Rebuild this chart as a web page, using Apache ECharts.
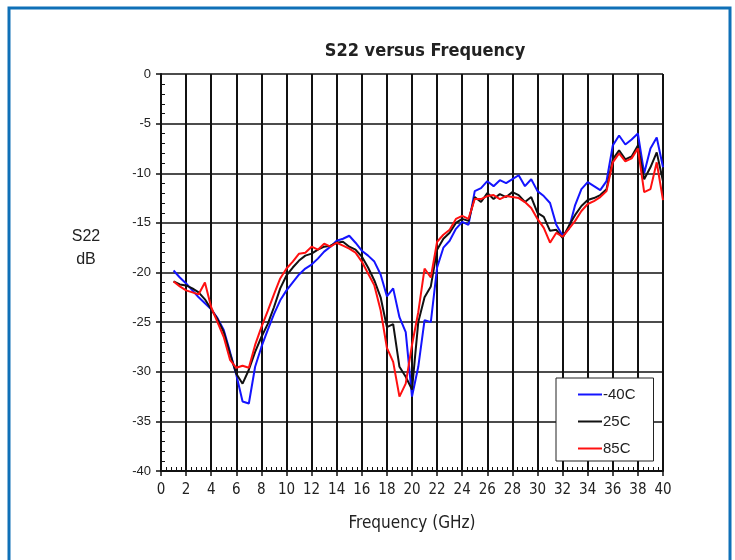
<!DOCTYPE html>
<html>
<head>
<meta charset="utf-8">
<script src="https://cdn.jsdelivr.net/npm/echarts@6/dist/echarts.min.js"></script>
<style>
  html, body { margin: 0; padding: 0; background: #fff; }
  #chart { width: 735px; height: 560px; }
</style>
</head>
<body>
<div id="chart"></div>
<script>
// frequency points (GHz)
var freq = [];
for (var f = 1; f <= 40; f += 0.5) freq.push(f);

// S22 in dB, every 0.5 GHz
var s22_m40 = [
    -19.8, -20.5, -21.1, -21.8, -22.5, -23.1, -23.7, -24.6, -25.8, -28.0,
    -30.3, -33.0, -33.2, -29.5, -27.5, -25.8, -24.2, -22.8, -21.8, -21.0,
    -20.2, -19.6, -19.2, -18.6, -17.9, -17.4, -16.8, -16.6, -16.3, -17.0,
    -17.8, -18.3, -18.9, -20.2, -22.4, -21.6, -24.5, -26.0, -32.5, -29.5,
    -24.8, -25.0, -19.5, -17.5, -16.8, -15.6, -14.9, -15.2, -11.8, -11.5,
    -10.8, -11.3, -10.7, -11.0, -10.6, -10.2, -11.3, -10.6, -11.8, -12.3,
    -13.0, -15.2, -16.3, -15.6, -13.2, -11.6, -10.9, -11.3, -11.7, -10.8,
    -7.2, -6.2, -7.1, -6.6, -6.0, -10.0, -7.5, -6.4, -9.4
];
var s22_25 = [
    -20.9, -21.2, -21.3, -21.6, -22.0, -22.7, -23.7, -24.7, -26.0, -28.2,
    -30.2, -31.2, -29.8, -28.0, -26.5, -25.2, -23.5, -21.6, -20.3, -19.5,
    -18.8, -18.3, -18.1, -17.7, -17.4, -17.3, -17.0, -16.9, -17.4, -17.7,
    -18.4, -19.5, -20.8, -22.5, -25.5, -25.2, -29.5, -30.5, -31.8, -25.0,
    -22.5, -21.4, -17.7, -16.6, -16.0, -15.0, -14.6, -14.8, -12.4, -12.9,
    -12.0, -12.6, -12.1, -12.4, -11.9, -12.2, -12.9, -12.4, -14.0, -14.4,
    -15.8, -15.7, -16.5, -15.3, -14.2, -13.3, -12.7, -12.5, -12.2, -11.6,
    -8.6, -7.7, -8.6, -8.3, -7.2, -10.6, -9.4, -7.9, -10.8
];
var s22_85 = [
    -20.9, -21.4, -21.8, -22.0, -22.2, -21.0, -23.5, -25.0, -26.5, -28.8,
    -29.6, -29.4, -29.6, -27.3, -25.5, -23.9, -22.2, -20.6, -19.6, -18.9,
    -18.1, -18.0, -17.4, -17.7, -17.1, -17.4, -17.0, -17.3, -17.6, -18.0,
    -18.9, -20.1, -21.3, -23.8, -27.6, -29.0, -32.5, -31.2, -27.3, -24.0,
    -19.6, -20.5, -16.9, -16.2, -15.7, -14.6, -14.3, -14.6, -12.6, -12.6,
    -12.3, -12.2, -12.6, -12.3, -12.4, -12.5, -12.9, -13.5, -14.6, -15.5,
    -17.0, -16.0, -16.4, -15.6, -14.8, -13.8, -13.1, -12.8, -12.4, -11.8,
    -8.9, -8.0, -8.8, -8.5, -7.5, -11.9, -11.6, -8.9, -12.7
];

var seriesNames = ['-40C', '25C', '85C'];
var seriesColors = ['#1414ff', '#111111', '#ff1010'];

function pairs(xs, ys) {
    var out = [];
    for (var i = 0; i < xs.length; i++) out.push([xs[i], ys[i]]);
    return out;
}

var condensed = '"Liberation Sans Narrow", "DejaVu Sans Condensed", "Liberation Sans", sans-serif';
var plain = '"Liberation Sans", Arial, sans-serif';

var myChart = echarts.init(document.getElementById('chart'));

var option = {
    backgroundColor: '#fff',
    animation: false,
    title: {
        text: 'S22 versus Frequency',
        left: 420,
        top: 37,
        textAlign: 'center',
        textStyle: { fontFamily: condensed, fontSize: 18, fontWeight: 'bold', color: '#222' }
    },
    graphic: [
        {
            type: 'rect',
            shape: { x: 9, y: 8, width: 721, height: 570 },
            style: { fill: null, stroke: '#0f70b7', lineWidth: 3 },
            silent: true
        },
        {
            type: 'text',
            x: 86,
            y: 225,
            style: {
                text: 'S22\ndB',
                align: 'center',
                verticalAlign: 'top',
                fontFamily: plain,
                fontSize: 16,
                lineHeight: 23,
                fill: '#222'
            }
        }
    ],
    legend: {
        data: seriesNames,
        orient: 'vertical',
        left: 556,
        top: 378,
        width: 100,
        padding: [9, 18, 5, 22],
        itemGap: 12,
        icon: 'rect',
        itemWidth: 24,
        itemHeight: 2,
        backgroundColor: '#fff',
        borderColor: '#222',
        borderWidth: 1,
        borderRadius: 0,
        textStyle: { fontFamily: plain, fontSize: 15, color: '#222', padding: [0, 0, 0, -4] }
    },
    grid: {
        left: 161,
        right: 72,
        top: 74,
        bottom: 89
    },
    xAxis: {
        type: 'value',
        min: 0,
        max: 40,
        interval: 2,
        name: 'Frequency (GHz)',
        nameLocation: 'middle',
        nameGap: 44,
        nameTextStyle: { fontFamily: condensed, fontSize: 17, color: '#222' },
        axisLine: { onZero: false, lineStyle: { color: '#111', width: 2 } },
        axisTick: { show: true, length: 5, lineStyle: { color: '#111', width: 1.5 } },
        minorTick: { show: true, splitNumber: 5, length: -4, lineStyle: { color: '#111', width: 1 } },
        axisLabel: { fontFamily: condensed, fontSize: 15, color: '#222', margin: 12 },
        splitLine: { show: true, lineStyle: { color: '#111', width: 2 } }
    },
    yAxis: {
        type: 'value',
        min: -40,
        max: 0,
        interval: 5,
        axisLine: { show: true, onZero: false, lineStyle: { color: '#111', width: 2 } },
        axisTick: { show: true, length: 5, lineStyle: { color: '#111', width: 1.5 } },
        minorTick: { show: true, splitNumber: 5, length: -4, lineStyle: { color: '#111', width: 1 } },
        axisLabel: { fontFamily: plain, fontSize: 13, color: '#222', margin: 10 },
        splitLine: { show: true, lineStyle: { color: '#111', width: 1.5 } }
    },
    series: [0, 1, 2].map(function (k) {
        var vals = [s22_m40, s22_25, s22_85][k];
        return {
            name: seriesNames[k],
            type: 'line',
            data: pairs(freq, vals),
            showSymbol: false,
            symbol: 'none',
            color: seriesColors[k],
            lineStyle: { color: seriesColors[k], width: 2 },
            z: 3 + k
        };
    })
};

myChart.setOption(option);
</script>
</body>
</html>
